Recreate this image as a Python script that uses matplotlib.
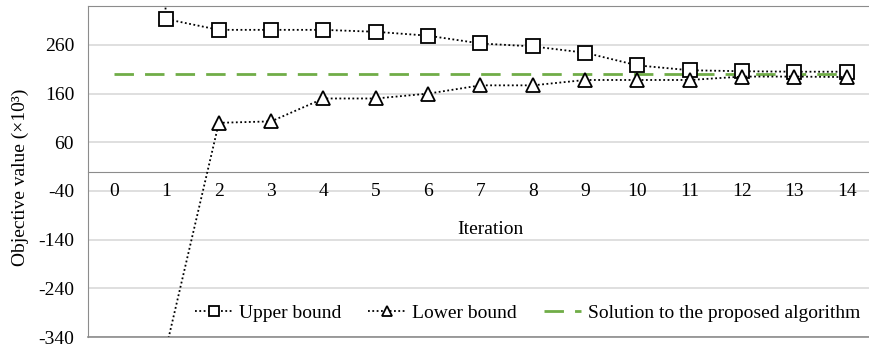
import numpy as np
import matplotlib
matplotlib.use("Agg")
import matplotlib.pyplot as plt

# values (x10^3)
iterations = np.arange(0, 15)
upper_bound = [1500, 313, 291, 291, 291, 287, 279, 263, 257, 244, 218, 208, 206, 205, 205]
lower_bound = [np.nan, -360, 100, 103, 150, 150, 160, 177, 177, 188, 188, 188, 195, 195, 194]
solution = [200] * 15

yticks = [-340, -240, -140, -40, 60, 160, 260]

plt.rcParams["font.family"] = ["Liberation Serif", "DejaVu Serif"]
plt.rcParams["axes.unicode_minus"] = False

fig = plt.figure(figsize=(8.7, 3.47), dpi=100)
ax = fig.add_axes([88 / 870, 10 / 347, 785 / 870, 331 / 347])

# horizontal gridlines behind everything, including the x tick labels
for y in yticks:
    ax.axhline(y, color="#D9D9D9", lw=1.2, zorder=0)

ax.plot(iterations, solution, color="#70AD47", lw=2, dashes=(7, 4),
        label="Solution to the proposed algorithm", zorder=2)
ax.plot(iterations, upper_bound, color="black", lw=1.3, ls=(0, (1, 1.4)),
        marker="s", ms=9.5, mfc="white", mec="black", mew=1.3,
        label="Upper bound", zorder=3)
ax.plot(iterations, lower_bound, color="black", lw=1.3, ls=(0, (1, 1.4)),
        marker="^", ms=10.5, mfc="white", mec="black", mew=1.3,
        label="Lower bound", zorder=3)

ax.set_xlim(-0.5, 14.5)
ax.set_ylim(-340, 340)
ax.set_yticks(yticks)
ax.set_xticks(iterations)

# x axis crosses at zero, frame kept around the plot area
ax.spines["bottom"].set_position(("data", 0))
for s in ["left", "top", "right", "bottom"]:
    ax.spines[s].set_color("#8C8C8C")
ax.axhline(-340, color="#8C8C8C", lw=1.2, clip_on=False, zorder=1)

ax.tick_params(axis="both", length=0, labelsize=14)
ax.tick_params(axis="x", pad=8)
ax.tick_params(axis="y", pad=10)

ax.set_xlabel("Iteration", fontsize=14)
ax.xaxis.set_label_coords((490 - 88) / 785, (337 - 221) / 331)
fig.text(20 / 870, 0.49, "Objective value (×10³)", rotation=90,
         ha="center", va="center", fontsize=14)

handles, labels = ax.get_legend_handles_labels()
order = [1, 2, 0]
ax.legend([handles[i] for i in order], [labels[i] for i in order],
          loc="center right", bbox_to_anchor=(870 / 870, 1 - 313 / 347),
          bbox_transform=fig.transFigure, ncol=3, frameon=False,
          fontsize=14, markerscale=0.7, handlelength=1.9,
          handletextpad=0.35, columnspacing=1.4, borderpad=0)

fig.savefig("out.png", dpi=100)
